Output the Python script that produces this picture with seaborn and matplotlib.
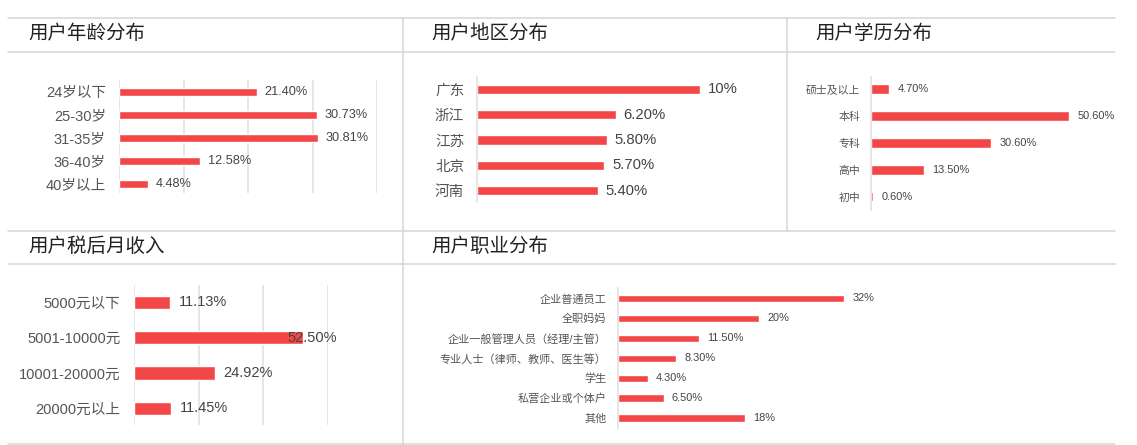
import numpy as np
import matplotlib
matplotlib.use("Agg")
import matplotlib.pyplot as plt
from matplotlib.lines import Line2D
import seaborn as sns

# ---- data ----
age_groups = ["24岁以下", "25-30岁", "31-35岁", "36-40岁", "40岁以上"]
age_share = [21.40, 30.73, 30.81, 12.58, 4.48]

regions = ["广东", "浙江", "江苏", "北京", "河南"]
region_share = [10, 6.20, 5.80, 5.70, 5.40]

education = ["硕士及以上", "本科", "专科", "高中", "初中"]
education_share = [4.70, 50.60, 30.60, 13.50, 0.60]

income_groups = ["5000元以下", "5001-10000元", "10001-20000元", "20000元以上"]
income_share = [11.13, 52.50, 24.92, 11.45]

jobs = ["企业普通员工", "全职妈妈", "企业一般管理人员（经理/主管）",
        "专业人士（律师、教师、医生等）", "学生", "私营企业或个体户", "其他"]
job_share = [32, 20, 11.50, 8.30, 4.30, 6.50, 18]

RED = "#f34747"
GRID = "#e2e2e2"
FRAME = "#d6d6d6"

sns.set_style("white")
# Arial-like latin glyphs, CJK falls back to Noto
plt.rcParams["font.family"] = ["Liberation Sans", "Noto Sans CJK SC", "DejaVu Sans"]

W, H = 1137, 445
fig = plt.figure(figsize=(W / 100, H / 100), dpi=100)


def px_axes(x0, y0, x1, y1):
    return fig.add_axes([x0 / W, 1 - y1 / H, (x1 - x0) / W, (y1 - y0) / H])


def hline(y, x0, x1):
    fig.add_artist(Line2D([x0 / W, x1 / W], [1 - y / H, 1 - y / H], color=FRAME, lw=1.1))


def vline(x, y0, y1):
    fig.add_artist(Line2D([x / W, x / W], [1 - y0 / H, 1 - y1 / H], color=FRAME, lw=1.1))


def fmt(v):
    return f"{int(v)}%" if float(v).is_integer() else f"{v:.2f}%"


def panel(rect, cats, vals, xmax, ylims, width, tick_fs, val_fs, tick_pad, val_gap,
          grid_step=None, label_cap=None):
    ax = px_axes(*rect)
    sns.barplot(x=vals, y=cats, orient="h", color=RED, saturation=1, width=width, ax=ax)
    ax.set_xlim(0, xmax)
    ax.set_ylim(*ylims)
    ax.set_xlabel("")
    ax.set_ylabel("")
    ax.tick_params(axis="y", length=0, pad=tick_pad, labelsize=tick_fs, labelcolor="#555555")
    ax.tick_params(axis="x", length=0, labelbottom=False)
    if grid_step:
        ax.set_xticks(np.arange(0, xmax + 0.1, grid_step))
        ax.grid(axis="x", color=GRID, lw=1.2)
        sns.despine(ax=ax, left=True, bottom=True)
    else:
        ax.set_xticks([])
        sns.despine(ax=ax, bottom=True)
        ax.spines["left"].set_color(GRID)
        ax.spines["left"].set_linewidth(1.2)
    ax.patch.set_alpha(0)
    for i, v in enumerate(vals):
        x = min(v, label_cap) if label_cap else v
        ax.annotate(fmt(v), xy=(x, i), xytext=(val_gap, 0), textcoords="offset points",
                    va="center", ha="left", fontsize=val_fs, color="#444444")
    return ax


# frame of the dashboard
for y in (18.3, 51.7, 231, 264.3, 443.5):
    hline(y, 8, 1115)
vline(403.3, 18.3, 445)
vline(786.7, 18.3, 231)

# titles
for x, y, t in [(28, 33.3, "用户年龄分布"), (431, 33.3, "用户地区分布"), (815, 33.3, "用户学历分布"),
                (28, 246.7, "用户税后月收入"), (431, 246.7, "用户职业分布")]:
    fig.text(x / W, 1 - y / H, t, fontsize=14, va="center", ha="left", color="#222222")

panel((119, 80.2, 377, 193.3), age_groups, age_share, 40, (4.42, -0.5), 0.36,
      10.5, 9.2, 9.4, 5.6, grid_step=10)
panel((477.3, 76.7, 760, 201.7), regions, region_share, 12.68, (4.43, -0.5), 0.37,
      10.5, 10.7, 9.4, 5.6)
panel((870.7, 76.7, 1115, 210), education, education_share, 62.2, (4.5, -0.47), 0.36,
      7.8, 7.9, 7.7, 6.0)
panel((134.3, 285, 327.5, 425), income_groups, income_share, 60, (3.47, -0.49), 0.37,
      10.5, 10.5, 9.8, 6.5, grid_step=20, label_cap=44.7)
panel((617.7, 288, 1115, 428), jobs, job_share, 70.2, (6.5, -0.515), 0.36,
      8, 7.9, 8, 5.6)

fig.savefig("out.png", dpi=100)
